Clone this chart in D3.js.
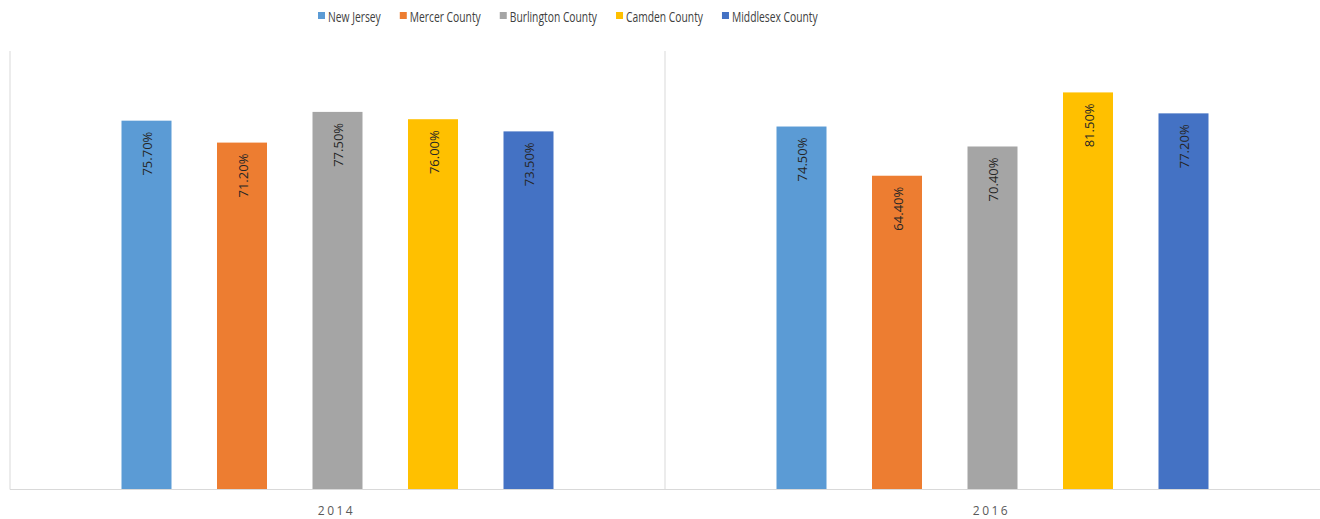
<!DOCTYPE html>
<html><head><meta charset="utf-8">
<script src="https://cdn.jsdelivr.net/npm/d3@7"></script>
<style>
html,body{margin:0;padding:0;background:#fff;}
svg{display:block;}
text{font-family:"Open Sans", sans-serif;}
</style></head>
<body>
<svg id="chart" width="1320" height="519"></svg>
<script>
const years = ["2014", "2016"];
const seriesNames = ["New Jersey", "Mercer County", "Burlington County", "Camden County", "Middlesex County"];
const colors = ["#5B9BD5", "#ED7D31", "#A5A5A5", "#FFC000", "#4472C4"];
const values2014 = [75.7, 71.2, 77.5, 76.0, 73.5];
const values2016 = [74.5, 64.4, 70.4, 81.5, 77.2];
const valuesByYear = [values2014, values2016];

const svg = d3.select("#chart");
const mLeft = 10, mRight = 1320, mTop = 51, mBottom = 489.5;

const x0 = d3.scaleBand().domain(years).range([mLeft, mRight]).paddingInner(0).paddingOuter(0);
const step = 95.5, barW = 50;
const groupW = step * 4 + barW;
const x1 = d3.scaleBand().domain(seriesNames)
  .range([0, groupW]).paddingInner((step - barW) / step).paddingOuter(0);
const y = d3.scaleLinear().domain([0, 90]).range([mBottom, mTop]);

// axis lines
svg.append("line").attr("x1", mLeft).attr("x2", mLeft).attr("y1", mTop).attr("y2", mBottom)
  .attr("stroke", "#d9d9d9").attr("stroke-width", 1);
svg.append("line").attr("x1", x0("2016")).attr("x2", x0("2016")).attr("y1", mTop).attr("y2", mBottom)
  .attr("stroke", "#d9d9d9").attr("stroke-width", 1);

years.forEach((yr, i) => {
  const start = x0(yr) + x0.bandwidth() / 2 - groupW / 2;
  const g = svg.append("g").attr("transform", `translate(${start},0)`);
  seriesNames.forEach((s, j) => {
    const v = valuesByYear[i][j];
    g.append("rect")
      .attr("x", x1(s)).attr("width", x1.bandwidth())
      .attr("y", y(v)).attr("height", y(0) - y(v))
      .attr("fill", colors[j]);
    const cx = x1(s) + x1.bandwidth() / 2;
    g.append("text")
      .attr("transform", `translate(${cx + 5.5},${y(v) + 11}) rotate(-90)`)
      .attr("text-anchor", "end")
      .attr("font-size", 13)
      .attr("fill", "#262626")
      .text(v.toFixed(2) + "%");
  });
});

// baseline
svg.append("line").attr("x1", mLeft).attr("x2", mRight).attr("y1", mBottom).attr("y2", mBottom)
  .attr("stroke", "#d9d9d9").attr("stroke-width", 1);

// year labels
years.forEach(yr => {
  svg.append("text")
    .attr("x", x0(yr) + x0.bandwidth() / 2 - 1)
    .attr("y", 515)
    .attr("text-anchor", "middle")
    .attr("font-size", 12)
    .attr("letter-spacing", 2.5)
    .attr("fill", "#595959")
    .text(yr);
});

// legend
let lx = 318;
const leg = svg.append("g");
seriesNames.forEach((s, j) => {
  leg.append("rect").attr("x", lx).attr("y", 12).attr("width", 7).attr("height", 7).attr("fill", colors[j]);
  const t = leg.append("text").attr("x", lx + 10).attr("y", 21.5)
    .attr("font-size", 14.5).attr("fill", "#404040").text(s);
  const w = t.node().getComputedTextLength() * 0.71;
  t.attr("textLength", w).attr("lengthAdjust", "spacingAndGlyphs");
  lx += 10 + w + 19;
});
</script>
</body></html>
